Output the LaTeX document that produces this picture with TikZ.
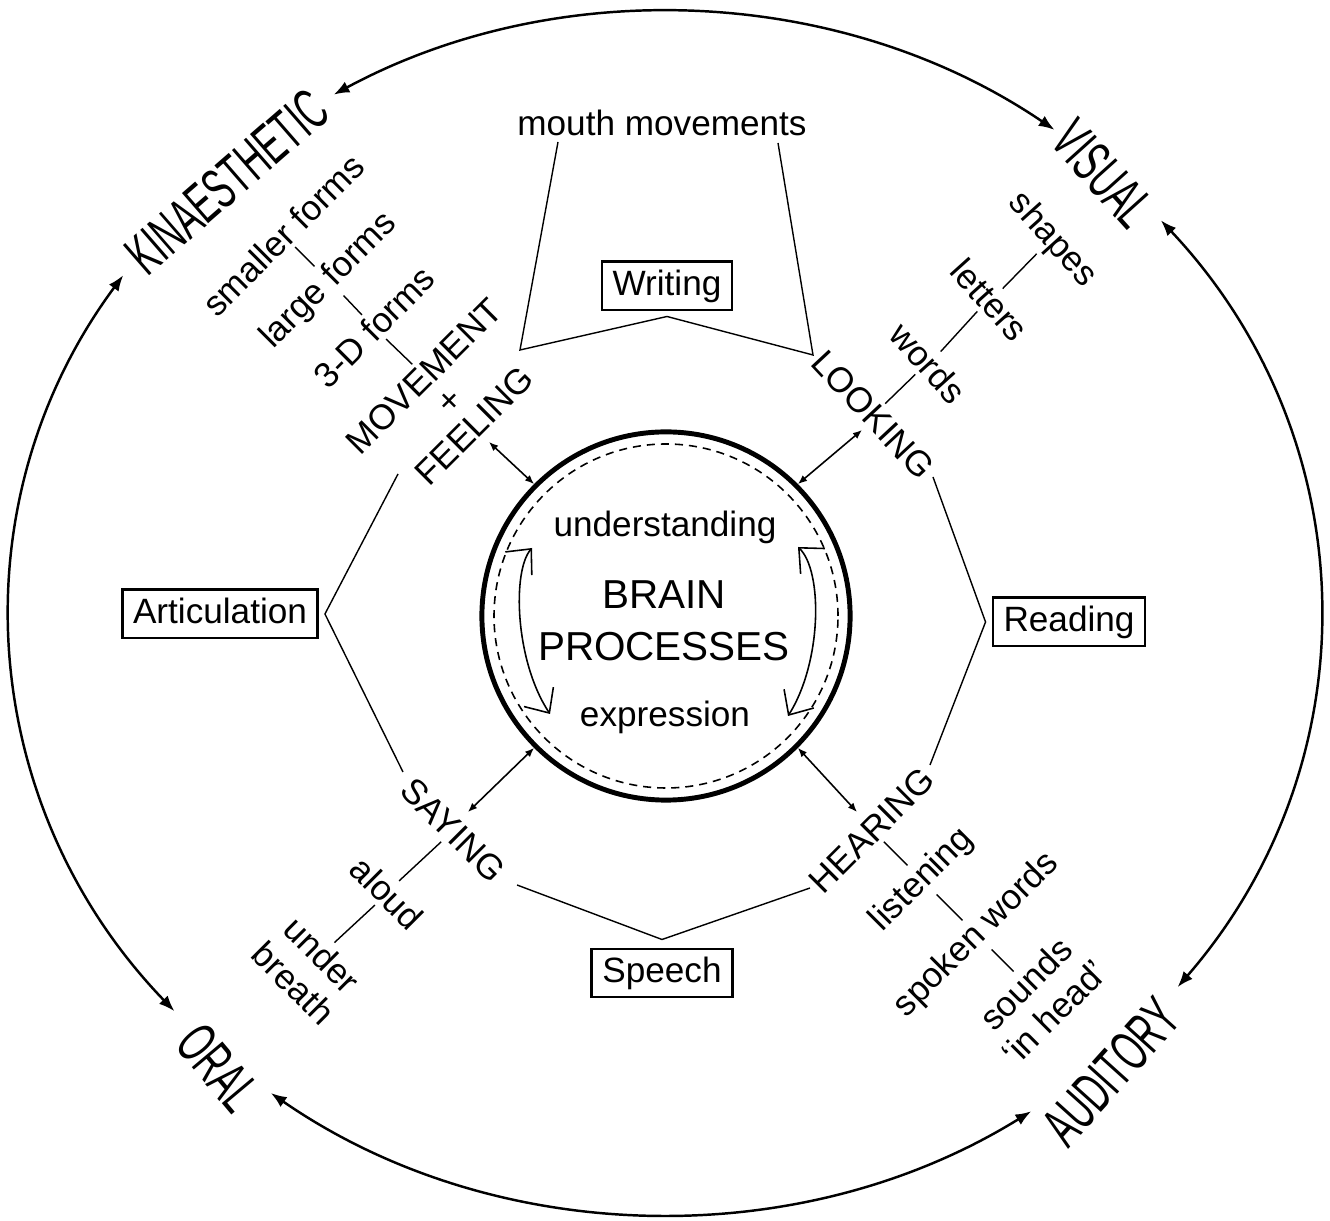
\documentclass[tikz,border=0pt]{standalone}
\usepackage{fontspec}
\setmainfont{Liberation Sans}
\usetikzlibrary{arrows.meta,calc}

\tikzset{
  base/.style={inner sep=1pt, font=\fontsize{10}{10}\selectfont},
  box/.style={draw, line width=0.8pt, inner xsep=3pt, inner ysep=2pt, text height=7.5pt, text depth=2.2pt, font=\fontsize{10}{10}\selectfont},
  word/.style={inner sep=1pt, align=center, font=\fontsize{10}{11.5}\selectfont},
  mode/.style={inner sep=1pt, font=\fontsize{16.5}{17}\selectfont},
  link/.style={line width=0.4pt},
  tick/.style={line width=0.4pt},
  sense/.style={<->, line width=0.7pt, >={Latex[length=4.5pt,width=3.4pt]}},
  feed/.style={<->, line width=0.45pt, >={Latex[length=2.6pt,width=2.1pt]}},
  cycle/.style={<->, line width=0.45pt, >={Straight Barb[length=5.5pt,width=10pt]}},
}
\newcommand{\narrow}[1]{\scalebox{0.58}[1]{#1}}

\begin{document}
\begin{tikzpicture}[x=0.01cm, y=0.01cm]
    \useasboundingbox (0,0) rectangle (1330,1221);
    \coordinate (c) at (665,608);

    % the four senses
    \node[mode, rotate=41] (kin) at (227,1039) {\narrow{KINAESTHETIC}};
    \node[mode, rotate=-48] (vis) at (1103,1047) {\narrow{VISUAL}};
    \node[mode, rotate=-50] (oral) at (218,153) {\narrow{ORAL}};
    \node[mode, rotate=48] (aud) at (1111,149) {\narrow{AUDITORY}};

    % outer ring
    \draw[sense] ($(c)+(120.4:655 and 601)$) arc[start angle=120.4, end angle=53.5, x radius=655, y radius=601];
    \draw[sense] ($(c)+(40.8:655 and 601)$) arc[start angle=40.8, end angle=-38.5, x radius=655, y radius=601];
    \draw[sense] ($(c)+(-56:655 and 601)$) arc[start angle=-56, end angle=-127, x radius=655, y radius=601];
    \draw[sense] ($(c)+(221.5:655 and 601)$) arc[start angle=221.5, end angle=145.8, x radius=655, y radius=601];

    % brain processes
    \node[circle, draw, line width=1.4pt, minimum size=3.68cm, inner sep=0] (brain) at (666,605) {};
    \draw[line width=0.45pt, dash pattern=on 2.3pt off 1.7pt] (brain.center) circle[radius=172];
    \node[base] (und) at (665,694) {understanding};
    \node[align=center, font=\fontsize{11.5}{14.8}\selectfont] (bp) at (664,600) {BRAIN\\PROCESSES};
    \node[base] (expr) at (665,504) {expression};
    \draw[cycle] ([shift={(-116,-98)}]brain.center) .. controls ([shift={(-151,-45)}]brain.center) and ([shift={(-154,45)}]brain.center) .. ([shift={(-134,68)}]brain.center);
    \draw[cycle] ([shift={(122,-100)}]brain.center) .. controls ([shift={(156,-46)}]brain.center) and ([shift={(157,45)}]brain.center) .. ([shift={(132,69)}]brain.center);

    % kinaesthetic chain
    \node[word, rotate=45] (smaller) at (283,986) {smaller forms};
    \node[word, rotate=45] (large) at (329,940) {large forms};
    \node[word, rotate=45] (threed) at (374,894) {3-D forms};
    \node[word, rotate=45, font=\fontsize{10}{10}\selectfont] (move) at (449,820) {MOVEMENT\\+\\FEELING};
    \draw[tick] (smaller.south) -- (large.north);
    \draw[tick] (large.south) -- (threed.north);
    \draw[tick] (threed.south) -- (move.north);

    % visual chain
    \node[word, rotate=-48] (shapes) at (1052,981) {shapes};
    \node[word, rotate=-48] (letters) at (990,921) {letters};
    \node[word, rotate=-48] (words) at (928,858) {words};
    \node[word, rotate=-47] (looking) at (873,806) {LOOKING};
    \draw[tick] (shapes.south) -- (letters.north);
    \draw[tick] (letters.south) -- (words.north);
    \draw[tick] (words.south) -- (looking.north);

    % oral chain
    \node[word, rotate=-45] (saying) at (453,391) {SAYING};
    \node[word, rotate=-45] (aloud) at (387,328) {aloud};
    \node[word, rotate=-45] (under) at (308,252) {under\\breath};
    \draw[tick] (saying.south) -- (aloud.north);
    \draw[tick] (aloud.south) -- (under.north);

    % auditory chain
    \node[word, rotate=45] (hearing) at (872,391) {HEARING};
    \node[word, rotate=45] (listening) at (922,341) {listening};
    \node[word, rotate=45] (spoken) at (977,286) {spoken words};
    \node[word, rotate=45] (sounds) at (1040,223) {sounds\\`in head'};
    \draw[tick] (hearing.south) -- (listening.north);
    \draw[tick] (listening.south) -- (spoken.north);
    \draw[tick] (spoken.south) -- (sounds.north);

    % skills
    \node[base] (mouth) at (662,1098) {mouth movements};
    \node[box] (writing) at (667,935) {Writing};
    \node[box] (artic) at (220,607) {Articulation};
    \node[box] (reading) at (1069,599) {Reading};
    \node[box] (speech) at (662,248) {Speech};

    \coordinate (wr) at ([yshift=-0.05cm]writing.south);
    \coordinate (ml) at (558,1079);
    \coordinate (mr) at (778,1078);
    \coordinate (mvc) at (520,871);
    \coordinate (lkc) at (813,866);
    \draw[link] (ml) -- (mvc) -- (wr) -- (lkc) -- (mr);

    \coordinate (ar) at ([xshift=0.06cm]artic.east);
    \coordinate (av1) at (398,747);
    \coordinate (av2) at (403,449);
    \draw[link] (av1) -- (ar) -- (av2);

    \coordinate (rd) at ([xshift=-0.06cm]reading.west);
    \coordinate (rv1) at (933,744);
    \coordinate (rv2) at (930,456);
    \draw[link] (rv1) -- (rd) -- (rv2);

    \coordinate (sp) at ([yshift=0.08cm]speech.north);
    \coordinate (sv1) at (517,336);
    \coordinate (sv2) at (810,333);
    \draw[link] (sv1) -- (sp) -- (sv2);

    % links to the centre
    \coordinate (fe) at (489,779);
    \coordinate (lo) at (862,791);
    \coordinate (sa) at (468,409);
    \coordinate (he) at (857,409);
    \draw[feed] (fe) -- (brain.135);
    \draw[feed] (lo) -- (brain.45);
    \draw[feed] (sa) -- (brain.225);
    \draw[feed] (he) -- (brain.315);
\end{tikzpicture}
\end{document}
